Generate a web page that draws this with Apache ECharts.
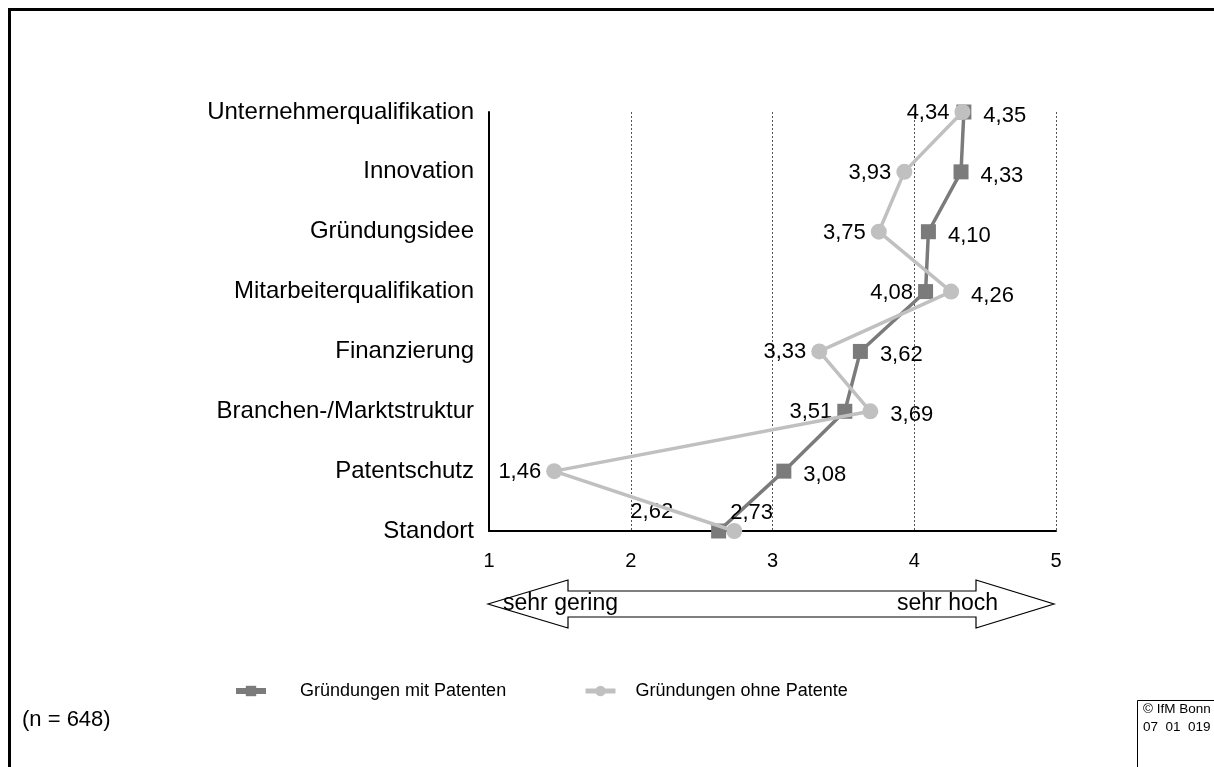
<!DOCTYPE html>
<html>
<head>
<meta charset="utf-8">
<script src="https://cdn.jsdelivr.net/npm/echarts@6/dist/echarts.min.js"></script>
<style>
  html, body { margin: 0; padding: 0; background: #fff; }
  #chart { width: 1214px; height: 767px; }
</style>
</head>
<body>
<div id="chart"></div>
<script>
// Bedeutung der Erfolgsfaktoren (1 = sehr gering, 5 = sehr hoch)
const categories = [
  'Unternehmerqualifikation',
  'Innovation',
  'Gründungsidee',
  'Mitarbeiterqualifikation',
  'Finanzierung',
  'Branchen-/Marktstruktur',
  'Patentschutz',
  'Standort'
];
const mitPatenten  = [4.35, 4.33, 4.10, 4.08, 3.62, 3.51, 3.08, 2.62];
const ohnePatente  = [4.34, 3.93, 3.75, 4.26, 3.33, 3.69, 1.46, 2.73];
const xTicks = [1, 2, 3, 4, 5];
const seriesNames = ['Gründungen mit Patenten', 'Gründungen ohne Patente'];

const FONT = 'Liberation Sans, Arial, sans-serif';
const DARK = '#7b7b7b';
const LIGHT = '#c0c0c0';

const fmt = v => v.toFixed(2).replace('.', ',');

// Label on the side away from the other series; the bottom row sits on the axis, so its labels go above
function buildData(values, other, isDark) {
  return values.map((v, i) => {
    const last = i === values.length - 1;
    let label;
    if (last) {
      label = isDark
        ? { position: 'left', distance: 38, offset: [0, -19] }
        : { position: 'right', distance: -12, offset: [0, -18] };
    } else if (v >= other[i]) {
      label = { position: 'right', distance: 12, offset: [0, 4] };
    } else {
      label = { position: 'left', distance: 5, offset: [0, 1] };
    }
    return { value: [v, categories[i]], label: label };
  });
}

const chart = echarts.init(document.getElementById('chart'));
chart.setOption({
  animation: false,
  backgroundColor: '#fff',
  textStyle: { fontFamily: FONT, color: '#000' },
  grid: { left: 489, right: 158, top: 112, bottom: 236, containLabel: false },
  xAxis: {
    type: 'value',
    min: xTicks[0],
    max: xTicks[xTicks.length - 1],
    interval: 1,
    axisLine: { show: true, onZero: false, lineStyle: { color: '#000', width: 2 } },
    axisTick: { show: false },
    axisLabel: { color: '#000', fontSize: 20, fontFamily: FONT, margin: 20 },
    splitLine: { show: true, lineStyle: { color: '#555', width: 1, type: [2, 2] } }
  },
  yAxis: {
    type: 'category',
    data: categories,
    inverse: true,
    boundaryGap: false,
    axisLine: { show: true, lineStyle: { color: '#000', width: 2 } },
    axisTick: { show: false },
    axisLabel: { color: '#000', fontSize: 24, fontFamily: FONT, margin: 15, padding: [9, 0, 0, 0] },
    splitLine: { show: false }
  },
  legend: [
    {
      data: [seriesNames[0]],
      left: 228, top: 677,
      itemWidth: 30, itemHeight: 13,
      lineStyle: { width: 6 },
      textStyle: { fontSize: 18, fontFamily: FONT, color: '#000', padding: [0, 0, 0, 29] }
    },
    {
      data: [seriesNames[1]],
      left: 578, top: 677,
      itemWidth: 30, itemHeight: 13,
      lineStyle: { width: 5 },
      textStyle: { fontSize: 18, fontFamily: FONT, color: '#000', padding: [0, 0, 0, 15] }
    }
  ],
  series: [
    {
      name: seriesNames[0],
      type: 'line',
      data: buildData(mitPatenten, ohnePatente, true),
      symbol: 'rect',
      symbolSize: 15,
      lineStyle: { color: DARK, width: 3.5 },
      itemStyle: { color: DARK },
      label: { show: true, formatter: p => fmt(p.value[0]), fontSize: 22, fontFamily: FONT, color: '#000' },
      z: 2
    },
    {
      name: seriesNames[1],
      type: 'line',
      data: buildData(ohnePatente, mitPatenten, false),
      symbol: 'circle',
      symbolSize: 16,
      lineStyle: { color: LIGHT, width: 3.5 },
      itemStyle: { color: LIGHT },
      label: { show: true, formatter: p => fmt(p.value[0]), fontSize: 22, fontFamily: FONT, color: '#000' },
      z: 3
    }
  ],
  graphic: [
    // outer frame
    { type: 'rect', shape: { x: 9.5, y: 9.5, width: 1220, height: 780 },
      style: { fill: null, stroke: '#000', lineWidth: 3 }, silent: true },
    // double arrow under the scale
    { type: 'polygon',
      shape: { points: [
        [488, 604], [568, 580], [568, 591], [976, 591], [976, 580],
        [1054, 604], [976, 628], [976, 617], [568, 617], [568, 628]
      ] },
      style: { fill: '#fff', stroke: '#000', lineWidth: 1.2 }, silent: true },
    { type: 'text', left: 503, top: 592,
      style: { text: 'sehr gering', font: '23px ' + FONT, fill: '#000' } },
    { type: 'text', left: 897, top: 592,
      style: { text: 'sehr hoch', font: '23px ' + FONT, fill: '#000' } },
    // sample size
    { type: 'text', left: 22, top: 709,
      style: { text: '(n = 648)', font: '22px ' + FONT, fill: '#000' } },
    // source box
    { type: 'rect', shape: { x: 1137.5, y: 700.5, width: 100, height: 100 },
      style: { fill: '#fff', stroke: '#000', lineWidth: 1 }, silent: true },
    { type: 'text', left: 1143, top: 702,
      style: { text: '© IfM Bonn', font: '13.5px ' + FONT, fill: '#000' } },
    { type: 'text', left: 1143, top: 720,
      style: { text: '07  01  019', font: '13.5px ' + FONT, fill: '#000' } }
  ]
});
</script>
</body>
</html>
